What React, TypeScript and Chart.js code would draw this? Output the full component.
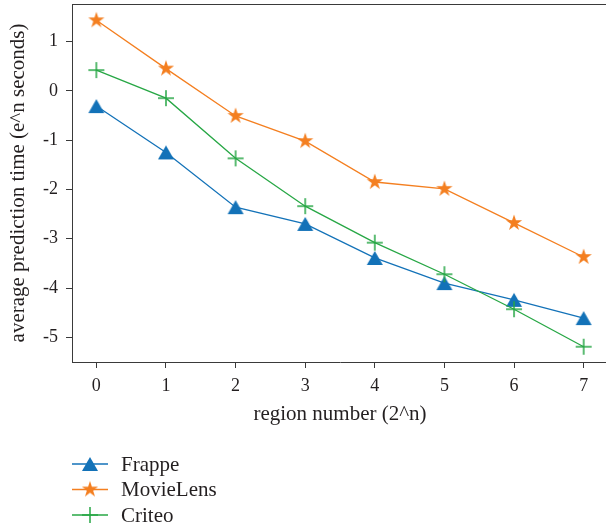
import React, { useEffect, useRef } from 'react';
import { Chart, registerables } from 'chart.js';

Chart.register(...registerables);

const regions = [0, 1, 2, 3, 4, 5, 6, 7];
const frappe = [-0.31, -1.25, -2.36, -2.7, -3.39, -3.9, -4.24, -4.61];
const movielens = [1.43, 0.45, -0.51, -1.02, -1.85, -1.99, -2.68, -3.37];
const criteo = [0.42, -0.15, -1.37, -2.34, -3.08, -3.72, -4.43, -5.19];
const yTickValues = [1, 0, -1, -2, -3, -4, -5];
const xTickValues = [0, 1, 2, 3, 4, 5, 6, 7];
const seriesNames = ['Frappe', 'MovieLens', 'Criteo'];
const seriesColors = ['#1372b8', '#f47f20', '#27a745'];
const seriesMarkers = ['triangle', 'star', 'cross'];
const xTitle = 'region number (2^n)';
const yTitle = 'average prediction time (e^n seconds)';

const FONT = "'Liberation Serif', 'DejaVu Serif', serif";
const AXIS = '#3a3a3a';
const TEXT = '#231f20';

function makeMarker(kind: string, color: string): HTMLCanvasElement {
  const c = document.createElement('canvas');
  const s = 22;
  c.width = s;
  c.height = s;
  const ctx = c.getContext('2d')!;
  const m = s / 2;
  ctx.fillStyle = color;
  ctx.strokeStyle = color;
  if (kind === 'triangle') {
    const w = 8, h = 7;
    ctx.beginPath();
    ctx.moveTo(m, m - h);
    ctx.lineTo(m + w, m + h);
    ctx.lineTo(m - w, m + h);
    ctx.closePath();
    ctx.fill();
  } else if (kind === 'star') {
    const R = 8.5, r = R * 0.382;
    ctx.beginPath();
    for (let i = 0; i < 10; i++) {
      const a = -Math.PI / 2 + (i * Math.PI) / 5;
      const rr = i % 2 === 0 ? R : r;
      const x = m + rr * Math.cos(a);
      const y = m + rr * Math.sin(a);
      if (i === 0) ctx.moveTo(x, y);
      else ctx.lineTo(x, y);
    }
    ctx.closePath();
    ctx.fill();
  } else {
    ctx.lineWidth = 1.5;
    ctx.beginPath();
    ctx.moveTo(m - 8, m);
    ctx.lineTo(m + 8, m);
    ctx.moveTo(m, m - 8);
    ctx.lineTo(m, m + 8);
    ctx.stroke();
  }
  return c;
}

export default function App() {
  const ref = useRef<HTMLCanvasElement>(null);

  useEffect(() => {
    const markers = seriesMarkers.map((k, i) => makeMarker(k, seriesColors[i]));
    const values = [frappe, movielens, criteo];

    const boxAndLegend = {
      id: 'boxAndLegend',
      afterDatasetsDraw(chart: any) {
        const { ctx, chartArea } = chart;
        ctx.save();
        ctx.strokeStyle = AXIS;
        ctx.lineWidth = 1;
        ctx.beginPath();
        ctx.moveTo(chartArea.left, chartArea.top + 0.5);
        ctx.lineTo(chartArea.right, chartArea.top + 0.5);
        ctx.stroke();
        ctx.restore();
      },
      afterDraw(chart: any) {
        const { ctx } = chart;
        ctx.save();
        seriesNames.forEach((name, i) => {
          const y = 464 + i * 25.5;
          ctx.strokeStyle = seriesColors[i];
          ctx.lineWidth = 1.3;
          ctx.beginPath();
          ctx.moveTo(72, y);
          ctx.lineTo(108, y);
          ctx.stroke();
          const mk = markers[i];
          ctx.drawImage(mk, 90 - mk.width / 2, y - mk.height / 2);
          ctx.fillStyle = TEXT;
          ctx.font = `21px ${FONT}`;
          ctx.textBaseline = 'middle';
          ctx.textAlign = 'left';
          ctx.fillText(name, 121, y + 1);
        });
        ctx.restore();
      },
    };

    const chart = new Chart(ref.current!, {
      type: 'line',
      data: {
        datasets: seriesNames.map((name, i) => ({
          label: name,
          data: regions.map((r, j) => ({ x: r, y: values[i][j] })),
          borderColor: seriesColors[i],
          backgroundColor: seriesColors[i],
          borderWidth: 1.3,
          pointStyle: markers[i] as any,
          pointRadius: 8,
          fill: false,
          tension: 0,
          order: 2 - i,
          clip: false as any,
        })),
      },
      options: {
        animation: false,
        responsive: false,
        devicePixelRatio: 1,
        layout: { autoPadding: false, padding: { top: 4, left: 0, right: 0, bottom: 99 } },
        plugins: {
          legend: { display: false },
          tooltip: { enabled: false },
        },
        scales: {
          x: {
            type: 'linear',
            min: -0.35,
            max: 7.35,
            afterBuildTicks: (s: any) => {
              s.ticks = xTickValues.map((v) => ({ value: v }));
            },
            afterFit: (s: any) => {
              s.height = 70;
              s.paddingLeft = 0;
              s.paddingRight = 0;
              s.paddingTop = 0;
              s.paddingBottom = 0;
            },
            grid: {
              display: true,
              drawOnChartArea: false,
              drawTicks: true,
              tickLength: 6,
              color: AXIS,
              lineWidth: 1,
            },
            border: { display: true, color: AXIS, width: 1 },
            ticks: {
              color: TEXT,
              font: { family: FONT, size: 18 },
              padding: 7,
              maxRotation: 0,
              callback: (v: any) => String(v),
            },
            title: {
              display: true,
              text: xTitle,
              color: TEXT,
              font: { family: FONT, size: 21 },
              padding: { top: 0, bottom: 5 },
            },
          },
          y: {
            type: 'linear',
            min: -5.5,
            max: 1.76,
            afterBuildTicks: (s: any) => {
              s.ticks = yTickValues.map((v) => ({ value: v }));
            },
            afterFit: (s: any) => {
              s.width = 72;
              s.paddingLeft = 0;
              s.paddingRight = 0;
              s.paddingTop = 0;
              s.paddingBottom = 0;
            },
            grid: {
              display: true,
              drawOnChartArea: false,
              drawTicks: true,
              tickLength: 6,
              color: AXIS,
              lineWidth: 1,
            },
            border: { display: true, color: AXIS, width: 1 },
            ticks: {
              color: TEXT,
              font: { family: FONT, size: 18 },
              padding: 8,
              callback: (v: any) => String(v),
            },
            title: {
              display: true,
              text: yTitle,
              color: TEXT,
              font: { family: FONT, size: 21 },
              padding: { top: 6, bottom: 0 },
            },
          },
        },
      },
      plugins: [boxAndLegend],
    } as any);

    return () => chart.destroy();
  }, []);

  return (
    <div
      style={{
        position: 'fixed',
        left: 0,
        top: 0,
        width: 606,
        height: 531,
        overflow: 'hidden',
        background: '#fff',
      }}
    >
      <canvas ref={ref} width={608} height={531} style={{ display: 'block', width: 608, height: 531 }} />
    </div>
  );
}
